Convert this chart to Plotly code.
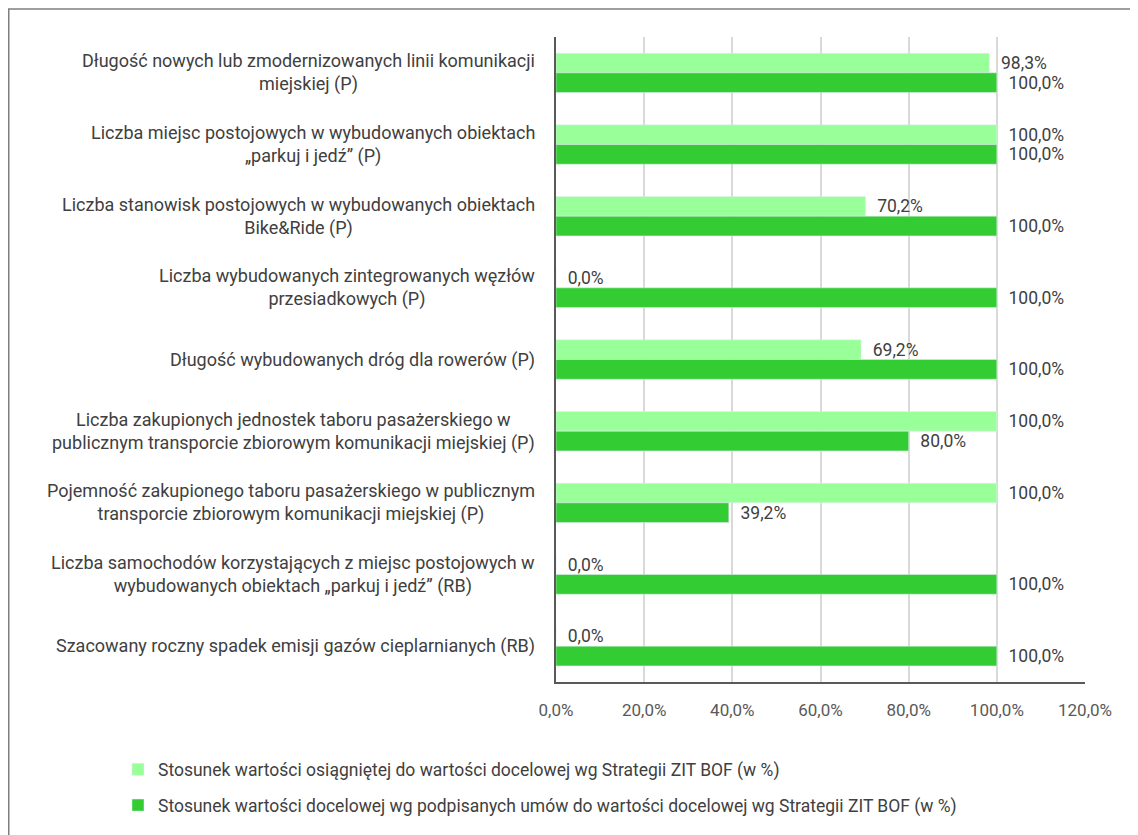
import plotly.graph_objects as go

categories = [
    "Długość nowych lub zmodernizowanych linii komunikacji<br>miejskiej (P)",
    "Liczba miejsc postojowych w wybudowanych obiektach<br>„parkuj i jedź” (P)",
    "Liczba stanowisk postojowych w wybudowanych obiektach<br>Bike&Ride (P)",
    "Liczba wybudowanych zintegrowanych węzłów<br>przesiadkowych (P)",
    "Długość wybudowanych dróg dla rowerów (P)",
    "Liczba zakupionych jednostek taboru pasażerskiego w<br>publicznym transporcie zbiorowym komunikacji miejskiej (P)",
    "Pojemność zakupionego taboru pasażerskiego w publicznym<br>transporcie zbiorowym komunikacji miejskiej (P)",
    "Liczba samochodów korzystających z miejsc postojowych w<br>wybudowanych obiektach „parkuj i jedź” (RB)",
    "Szacowany roczny spadek emisji gazów cieplarnianych (RB)",
]
achieved = [98.3, 100.0, 70.2, 0.0, 69.2, 100.0, 100.0, 0.0, 0.0]
contracted = [100.0, 100.0, 100.0, 100.0, 100.0, 80.0, 39.2, 100.0, 100.0]
series_names = [
    "Stosunek wartości osiągniętej do wartości docelowej wg Strategii ZIT BOF (w %)",
    "Stosunek wartości docelowej wg podpisanych umów do wartości docelowej wg Strategii ZIT BOF (w %)",
]
x_ticks = [0, 20, 40, 60, 80, 100, 120]
x_tick_labels = [f"{v:.1f}%".replace(".", ",") for v in x_ticks]

FONT = "Roboto"
TXT = "#404040"
ids = list(range(len(categories)))

W, H = 1130, 827
L, R_, T, B = 548, 1130 - 1077, 29, 827 - 679
PW, PH = W - L - R_, H - T - B

fig = go.Figure()
for vals, name, color, grp in [
    (achieved, series_names[0], "#99FF99", "a"),
    (contracted, series_names[1], "#33CC33", "b"),
]:
    fig.add_trace(go.Bar(
        y=ids, x=vals, orientation="h", name=name,
        marker=dict(color=color), legendgroup=grp,
        texttemplate="\u00a0\u00a0%{x:.1f}%", textposition="outside",
        cliponaxis=False, constraintext="none",
        textfont=dict(family=FONT, size=17.5, color=TXT),
    ))

for i, c in enumerate(categories):
    fig.add_annotation(
        x=0, xref="paper", xshift=-19, y=i, yref="y", text=c, showarrow=False,
        xanchor="right", align="center",
        font=dict(family=FONT, size=18, color=TXT),
    )

fig.update_layout(
    width=W, height=H,
    margin=dict(l=L, r=R_, t=T, b=B),
    paper_bgcolor="white", plot_bgcolor="white",
    separators=", ",
    barmode="group", bargap=0.45, bargroupgap=0,
    font=dict(family=FONT, size=16, color=TXT),
    xaxis=dict(
        range=[0, 120], tickvals=x_ticks, ticktext=x_tick_labels,
        showgrid=True, gridcolor="#D9D9D9", gridwidth=2, zeroline=False,
        showline=True, linecolor="#595959", linewidth=1.5,
        ticks="", tickfont=dict(family=FONT, size=17, color="#595959"),
        ticklabelstandoff=12,
    ),
    yaxis=dict(
        tickvals=ids, showticklabels=False, autorange="reversed",
        showline=True, linecolor="#595959", linewidth=1.5,
        showgrid=False, zeroline=False, ticks="",
    ),
    legend=dict(
        orientation="v", x=(110 - L) / PW, xanchor="left",
        y=-(757 - 8 - (T + PH)) / PH, yanchor="top",
        font=dict(family=FONT, size=17.5, color=TXT), tracegroupgap=10,
        itemwidth=30,
    ),
    shapes=[dict(
        type="rect", xref="paper", yref="paper",
        x0=(0.75 - L) / PW, x1=(W + 20 - L) / PW,
        y0=-(H + 20 - (T + PH)) / PH, y1=(T + PH - 0.75) / PH,
        line=dict(color="#7F7F7F", width=1.5), fillcolor="rgba(0,0,0,0)",
    )],
)

fig.write_html("out.html")
